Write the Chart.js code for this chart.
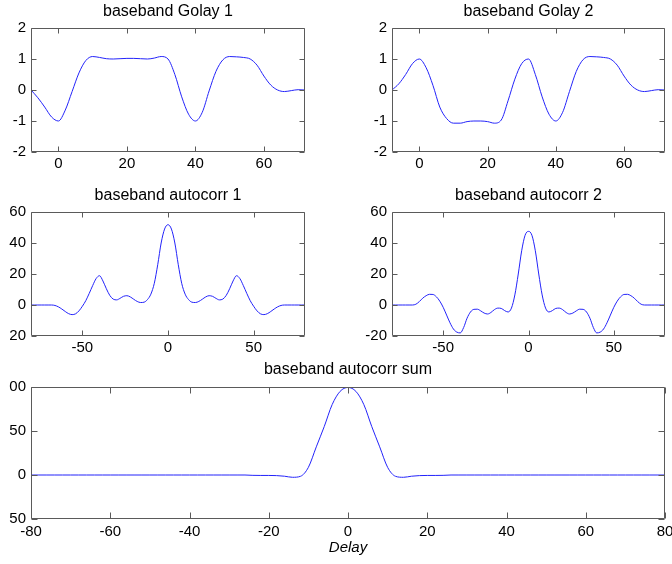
<!DOCTYPE html>
<html>
<head>
<meta charset="utf-8">
<title>baseband Golay</title>
<script src="https://cdn.jsdelivr.net/npm/chart.js@4.4.1/dist/chart.umd.min.js"></script>
<style>
  html, body { margin: 0; padding: 0; background: #fff; }
  #fig { position: relative; width: 672px; height: 564px; overflow: hidden; }
  #fig canvas { position: absolute; }
  /* the left edge of the figure is cut off, like in the original picture */
  .leftcol { clip-path: inset(0 0 0 9px); }
</style>
</head>
<body>
<div id="fig">
  <canvas id="golay1" class="leftcol" width="336" height="170" style="left:0;top:0"></canvas>
  <canvas id="golay2" width="336" height="170" style="left:336px;top:0"></canvas>
  <canvas id="auto1" class="leftcol" width="336" height="188" style="left:0;top:170px"></canvas>
  <canvas id="auto2" width="336" height="188" style="left:336px;top:170px"></canvas>
  <canvas id="autoSum" class="leftcol" width="672" height="206" style="left:0;top:358px"></canvas>
</div>
<script>
// ---- data ----
const golayDelay = [-8, -6, -4, -2, 0, 2, 4, 6, 8, 10, 12, 14, 16, 18, 20, 22, 24, 26, 28, 30,
    32, 34, 36, 38, 40, 42, 44, 46, 48, 50, 52, 54, 56, 58, 60, 62, 64, 66, 68, 70, 72];

const golay1 = [0, -0.25, -0.55, -0.87, -1.0, -0.65, -0.05, 0.55, 0.95, 1.08, 1.05, 1.01, 1.0, 1.01, 1.02, 1.02, 1.01, 1.0, 1.03, 1.08,
    1.0, 0.5, -0.22, -0.78, -1.0, -0.72, -0.03, 0.6, 0.97, 1.08, 1.07, 1.05, 1.0, 0.8, 0.45, 0.16, 0.0, -0.05, -0.02, 0.01, 0];

const golay2 = [0, 0.2, 0.5, 0.85, 1.0, 0.72, 0.15, -0.55, -0.92, -1.07, -1.07, -1.02, -1.0, -1.0, -1.02, -1.07, -0.97, -0.35, 0.35, 0.85,
    1.0, 0.5, -0.22, -0.78, -1.0, -0.72, -0.05, 0.6, 0.98, 1.08, 1.07, 1.05, 1.0, 0.8, 0.45, 0.16, 0.0, -0.05, -0.02, 0.01, 0];

const autoDelay = [-80, -78, -76, -74, -72, -70, -68, -66, -64, -62, -60, -58, -56, -54, -52, -50, -48, -46, -44, -42,
    -40, -38, -36, -34, -32, -30, -28, -26, -24, -22, -20, -18, -16, -14, -12, -10, -8, -6, -4, -2,
    0, 2, 4, 6, 8, 10, 12, 14, 16, 18, 20, 22, 24, 26, 28, 30, 32, 34, 36, 38,
    40, 42, 44, 46, 48, 50, 52, 54, 56, 58, 60, 62, 64, 66, 68, 70, 72, 74, 76, 78, 80];

const autocorr1 = [0, 0, 0, 0, 0, 0, 0, -0.3, -1.2, -2.6, -4.2, -5.6, -6.2, -5.7, -3.8, -0.8, 2.8, 7.5, 12.5, 17,
    18.9, 15.5, 10.5, 6.2, 3.8, 3.3, 4.3, 5.6, 6.0, 5.2, 3.7, 2.3, 1.6, 1.8, 3.5, 7, 14, 26, 40, 49,
    51.8, 49, 40, 26, 14, 7, 3.5, 1.8, 1.6, 2.3, 3.7, 5.2, 6.0, 5.6, 4.3, 3.3, 3.8, 6.2, 10.5, 15.5,
    18.9, 17, 12.5, 7.5, 2.8, -0.8, -3.8, -5.7, -6.2, -5.6, -4.2, -2.6, -1.2, -0.3, 0, 0, 0, 0, 0, 0, 0];

const autocorr2 = [0, 0, 0, 0, 0, 0, 0, 0.5, 2.2, 4.4, 6.0, 6.9, 6.8, 5.3, 2.5, -1.5, -6.5, -11.5, -15.5, -17.5,
    -18.0, -14.5, -8.5, -4.5, -2.8, -2.7, -3.8, -5.2, -5.8, -4.8, -3.0, -2.0, -2.2, -3.6, -4.5, -2.0, 6.5, 20, 35, 45,
    47.5, 45, 35, 20, 6.5, -2.0, -4.5, -3.6, -2.2, -2.0, -3.0, -4.8, -5.8, -5.2, -3.8, -2.7, -2.8, -4.5, -8.5, -14.5,
    -18.0, -17.5, -15.5, -11.5, -6.5, -1.5, 2.5, 5.3, 6.8, 6.9, 6.0, 4.4, 2.2, 0.5, 0, 0, 0, 0, 0, 0, 0];

const autocorrSum = [0, 0, 0, 0, 0, 0, 0, 0, 0, 0, 0, 0, 0, 0, 0, 0, 0, 0, 0, 0,
    0, 0, 0, 0, 0, 0, 0, 0, -0.4, -0.5, -0.5, -0.7, -1.4, -2.6, -1.5, 8.7, 32, 55, 80, 95,
    99.5, 95, 80, 55, 32, 8.7, -1.5, -2.6, -1.4, -0.7, -0.5, -0.5, -0.4, 0, 0, 0, 0, 0, 0, 0,
    0, 0, 0, 0, 0, 0, 0, 0, 0, 0, 0, 0, 0, 0, 0, 0, 0, 0, 0, 0, 0];

// tick labels
const golayXTicks = [0, 20, 40, 60];
const golayYTicks = [-2, -1, 0, 1, 2];
const autoXTicks = [-50, 0, 50];
const autoYTicks = [-20, 0, 20, 40, 60];
const sumXTicks = [-80, -60, -40, -20, 0, 20, 40, 60, 80];
const sumYTicks = [-50, 0, 50, 100];

const titles = ['baseband Golay 1', 'baseband Golay 2', 'baseband autocorr 1', 'baseband autocorr 2', 'baseband autocorr sum'];
const xAxisTitle = 'Delay';

// ---- styles ----
const LINE_COLOR = 'rgb(35, 35, 250)';
const BOX_COLOR = '#5a5a5a';

Chart.defaults.font.family = '"Liberation Sans", Arial, sans-serif';
Chart.defaults.font.size = 15;
Chart.defaults.color = '#000';

// MATLAB style box with inner tick marks on all four sides
const matlabBox = {
    id: 'matlabBox',
    afterDatasetsDraw(chart, args, opts) {
        const ctx = chart.ctx;
        const a = chart.chartArea;
        const L = opts.tickLen || 5;
        const l = Math.round(a.left) + 0.5;
        const r = Math.round(a.right) - 0.5;
        const t = Math.round(a.top) + 0.5;
        const b = Math.round(a.bottom) - 0.5;
        ctx.save();
        ctx.strokeStyle = BOX_COLOR;
        ctx.lineWidth = 1;
        ctx.beginPath();
        ctx.rect(l, t, r - l, b - t);
        chart.scales.x.ticks.forEach(tk => {
            const px = Math.round(chart.scales.x.getPixelForValue(tk.value)) + 0.5;
            ctx.moveTo(px, b); ctx.lineTo(px, b - L);
            ctx.moveTo(px, t); ctx.lineTo(px, t + L);
        });
        chart.scales.y.ticks.forEach(tk => {
            const py = Math.round(chart.scales.y.getPixelForValue(tk.value)) + 0.5;
            ctx.moveTo(l, py); ctx.lineTo(l + L, py);
            ctx.moveTo(r, py); ctx.lineTo(r - L, py);
        });
        ctx.stroke();
        ctx.restore();
    }
};

function makePlot(id, p) {
    const ctx = document.getElementById(id).getContext('2d');
    return new Chart(ctx, {
        type: 'line',
        data: {
            datasets: [{
                data: p.xs.map((x, i) => ({ x: x, y: p.ys[i] })),
                borderColor: LINE_COLOR,
                borderWidth: 1,
                pointRadius: 0,
                cubicInterpolationMode: 'monotone',
                fill: false
            }]
        },
        options: {
            responsive: false,
            animation: false,
            devicePixelRatio: 1,
            layout: { padding: { left: p.padLeft, right: p.padRight, top: 0, bottom: 0 } },
            scales: {
                x: {
                    type: 'linear',
                    min: p.xMin,
                    max: p.xMax,
                    grid: { display: false, drawTicks: false },
                    border: { display: false },
                    afterBuildTicks: s => { s.ticks = p.xTicks.map(v => ({ value: v })); },
                    afterFit: s => {
                        s.height = p.xAxisH;
                        s.paddingLeft = 0;
                        s.paddingRight = 0;
                    },
                    ticks: {
                        autoSkip: false,
                        maxRotation: 0,
                        padding: p.xLabelPad,
                        callback: v => String(v)
                    },
                    title: p.xTitle ? {
                        display: true,
                        text: p.xTitle,
                        font: { style: 'italic', size: 15 },
                        padding: { top: 0, bottom: 7 }
                    } : { display: false }
                },
                y: {
                    type: 'linear',
                    min: p.yMin,
                    max: p.yMax,
                    grid: { display: false, drawTicks: false },
                    border: { display: false },
                    afterBuildTicks: s => { s.ticks = p.yTicks.map(v => ({ value: v })); },
                    afterFit: s => {
                        s.width = 31;
                        s.paddingTop = 0;
                        s.paddingBottom = 0;
                    },
                    ticks: {
                        padding: 5,
                        callback: v => String(v)
                    }
                }
            },
            plugins: {
                legend: { display: false },
                tooltip: { enabled: false },
                title: {
                    display: true,
                    text: p.title,
                    fullSize: false,
                    color: '#000',
                    font: { size: 16, weight: 'normal', lineHeight: 1.2 },
                    padding: { top: p.titleTop, bottom: p.titleBottom }
                },
                matlabBox: { tickLen: p.tickLen }
            }
        },
        plugins: [matlabBox]
    });
}

document.addEventListener('DOMContentLoaded', function() {
    const golayCommon = {
        xs: golayDelay, xMin: -8, xMax: 72, xTicks: golayXTicks,
        yMin: -2, yMax: 2, yTicks: golayYTicks,
        xAxisH: 18, xLabelPad: 3, titleTop: 1.6, titleBottom: 7.2, tickLen: 5
    };
    makePlot('golay1', Object.assign({}, golayCommon, { ys: golay1, title: titles[0], padLeft: 0, padRight: 31 }));
    makePlot('golay2', Object.assign({}, golayCommon, { ys: golay2, title: titles[1], padLeft: 25, padRight: 7 }));

    const autoCommon = {
        xs: autoDelay, xMin: -80, xMax: 80, xTicks: autoXTicks,
        yMin: -20, yMax: 60, yTicks: autoYTicks,
        xAxisH: 22, xLabelPad: 2.5, titleTop: 15.6, titleBottom: 7.2, tickLen: 5
    };
    makePlot('auto1', Object.assign({}, autoCommon, { ys: autocorr1, title: titles[2], padLeft: 0, padRight: 31 }));
    makePlot('auto2', Object.assign({}, autoCommon, { ys: autocorr2, title: titles[3], padLeft: 25, padRight: 7 }));

    makePlot('autoSum', {
        xs: autoDelay, ys: autocorrSum, title: titles[4],
        xMin: -80, xMax: 80, xTicks: sumXTicks,
        yMin: -50, yMax: 100, yTicks: sumYTicks,
        xAxisH: 45, xLabelPad: 3.5, titleTop: 1.9, titleBottom: 7.9, tickLen: 6,
        padLeft: 0, padRight: 7, xTitle: xAxisTitle
    });
});
</script>
</body>
</html>
